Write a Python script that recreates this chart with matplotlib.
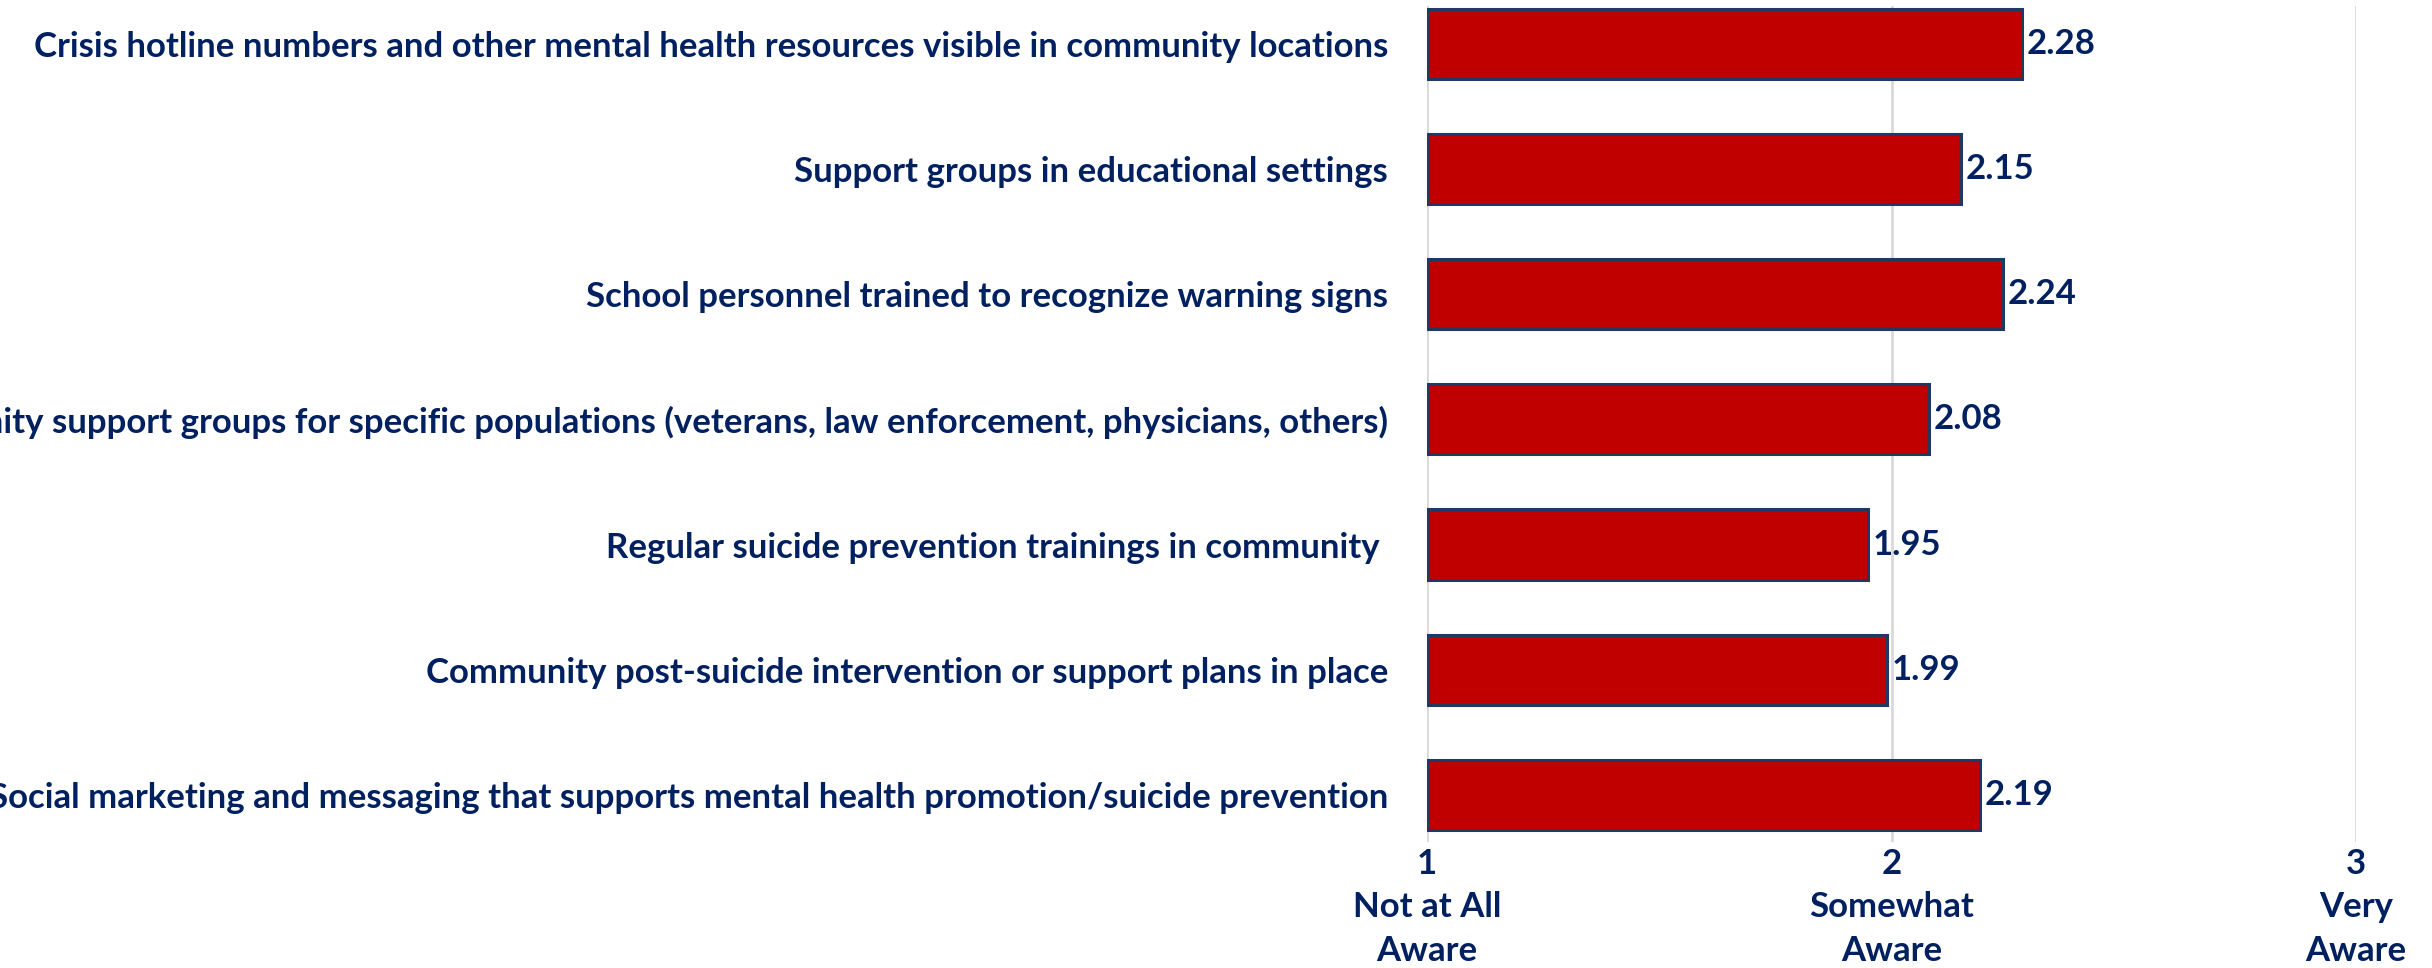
import numpy as np
import matplotlib.pyplot as plt

# ----------------------------
# データ
# ----------------------------
categories = [
    "Crisis hotline numbers and other mental health resources visible in community locations",
    "Support groups in educational settings",
    "School personnel trained to recognize warning signs",
    "Community support groups for specific populations (veterans, law enforcement, physicians, others)",
    "Regular suicide prevention trainings in community ",
    "Community post-suicide intervention or support plans in place",
    "Social marketing and messaging that supports mental health promotion/suicide prevention",
]
values = [2.28, 2.15, 2.24, 2.08, 1.95, 1.99, 2.19]
tick_values = [1, 2, 3]
tick_labels = ["1\nNot at All\nAware", "2\nSomewhat\nAware", "3\nVery\nAware"]

navy = "#002060"
fs = 25
plt.rcParams["font.family"] = ["Lato", "DejaVu Sans"]
plt.rcParams["font.weight"] = "bold"

fig = plt.figure(figsize=(24.32, 9.68), dpi=100)
ax = fig.add_axes([1427 / 2432, 1 - 842 / 968, (2356 - 1427) / 2432, (842 - 6) / 968])

y = np.arange(len(categories))
base = tick_values[0]
widths = [v - base for v in values]
ax.barh(y, widths, left=base, height=0.56, color="#C00000",
        edgecolor="#203864", linewidth=2.2, zorder=3)

for yi, v in zip(y, values):
    ax.text(v + 0.01, yi, f"{v:.2f}", va="center", ha="left",
            fontsize=fs, fontweight="bold", color=navy)

ax.set_xlim(1, 3)
ax.set_ylim(6.375, -0.30)
ax.set_xticks(tick_values)
ax.set_xticklabels(tick_labels, fontsize=fs, fontweight="bold", color=navy,
                   linespacing=1.45)
ax.set_yticks(y)
ax.set_yticklabels(categories, fontsize=fs, fontweight="bold", color=navy)
ax.tick_params(axis="both", length=0)
ax.tick_params(axis="y", pad=28)
ax.tick_params(axis="x", pad=4)

ax.grid(axis="x", color="#D9D9D9", linewidth=2, zorder=0)
for s in ax.spines.values():
    s.set_visible(False)

fig.savefig("out.png", dpi=100)
